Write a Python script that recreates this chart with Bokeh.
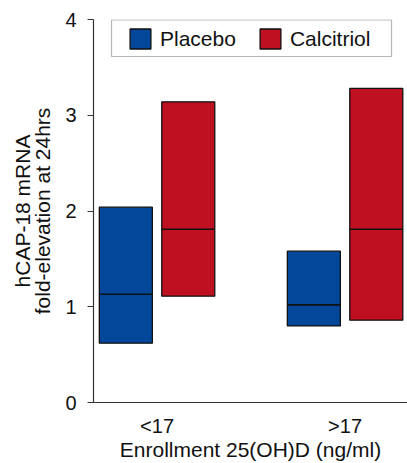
from bokeh.plotting import figure
from bokeh.models import (ColumnDataSource, FixedTicker, Range1d, Legend, LegendItem,
                          BoxAnnotation)
from bokeh.embed import file_html
from bokeh.resources import INLINE

# ---- data ----
groups = ["<17", ">17"]
series = ["Placebo", "Calcitriol"]
placebo_low = [0.62, 0.80]
placebo_med = [1.13, 1.02]
placebo_high = [2.04, 1.58]
calcitriol_low = [1.11, 0.86]
calcitriol_med = [1.81, 1.81]
calcitriol_high = [3.14, 3.28]
y_ticks = [0, 1, 2, 3, 4]

# ---- style ----
FONT = "Liberation Sans"
BLUE = "#02479A"
RED = "#BE1020"
BAR_W = 0.282
DODGE = 0.166
W, H = 407, 463

p = figure(width=W, height=H, output_backend="svg", toolbar_location=None,
           x_range=Range1d(0.662, 2.332), y_range=Range1d(0, 4),
           min_border_left=93, min_border_right=0, min_border_top=19,
           min_border_bottom=60)
p.outline_line_color = None
p.xgrid.visible = False
p.ygrid.visible = False
p.background_fill_color = "white"
p.border_fill_color = "white"

pos = [i + 1 for i in range(len(groups))]

def make_src(offset, low, med, high):
    xs = [x + offset for x in pos]
    return ColumnDataSource(dict(
        x=xs, low=low, med=med, high=high,
        x0=[x - BAR_W / 2 for x in xs], x1=[x + BAR_W / 2 for x in xs]))

src_p = make_src(-DODGE, placebo_low, placebo_med, placebo_high)
src_c = make_src(DODGE, calcitriol_low, calcitriol_med, calcitriol_high)

r_p = p.vbar(x="x", width=BAR_W, bottom="low", top="high", source=src_p,
             fill_color=BLUE, line_color="#111111", line_width=1.3)
r_c = p.vbar(x="x", width=BAR_W, bottom="low", top="high", source=src_c,
             fill_color=RED, line_color="#111111", line_width=1.3)
p.segment(x0="x0", x1="x1", y0="med", y1="med", source=src_p,
          line_color="#111111", line_width=1.6)
p.segment(x0="x0", x1="x1", y0="med", y1="med", source=src_c,
          line_color="#111111", line_width=1.6)

# ---- axes ----
xa = p.xaxis[0]
xa.ticker = FixedTicker(ticks=pos)
xa.major_label_overrides = {x: g for x, g in zip(pos, groups)}
xa.major_tick_out = 0
xa.major_tick_in = 0
xa.minor_tick_line_color = None
xa.major_label_standoff = 12
xa.axis_label = "Enrollment 25(OH)D (ng/ml)"
xa.axis_label_standoff = -2

ya = p.yaxis[0]
ya.ticker = FixedTicker(ticks=y_ticks)
ya.major_tick_out = 6
ya.major_tick_in = 0
ya.minor_tick_line_color = None
ya.major_label_standoff = 11
ya.axis_label = "hCAP-18 mRNA\nfold-elevation at 24hrs"
ya.axis_label_standoff = 8
ya.axis_label_text_line_height = 0.9

for ax in (xa, ya):
    ax.axis_line_color = "#333333"
    ax.axis_line_width = 1.2
    ax.major_tick_line_color = "#333333"
    ax.major_tick_line_width = 1.2
    ax.major_label_text_font = FONT
    ax.major_label_text_font_size = "20px"
    ax.major_label_text_color = "#111111"
    ax.axis_label_text_font = FONT
    ax.axis_label_text_font_size = "21px"
    ax.axis_label_text_font_style = "normal"
    ax.axis_label_text_color = "#111111"

# ---- legend ----
legend = Legend(items=[LegendItem(label=series[0], renderers=[r_p]),
                       LegendItem(label=series[1], renderers=[r_c])],
                orientation="horizontal", location=(28, 345),
                padding=6, spacing=21, label_standoff=7,
                glyph_width=26, glyph_height=25, margin=0,
                border_line_alpha=0, background_fill_alpha=0,
                label_text_font=FONT, label_text_font_size="21px",
                label_text_color="#111111")
p.add_layout(legend, "center")

box = BoxAnnotation(left=0.7577, right=2.2471, top=3.997, bottom=3.6136,
                    fill_color="white", fill_alpha=1.0,
                    line_color="#111111", line_width=1.2, level="underlay")
p.add_layout(box)

open("out.html", "w").write(file_html(p, INLINE))
